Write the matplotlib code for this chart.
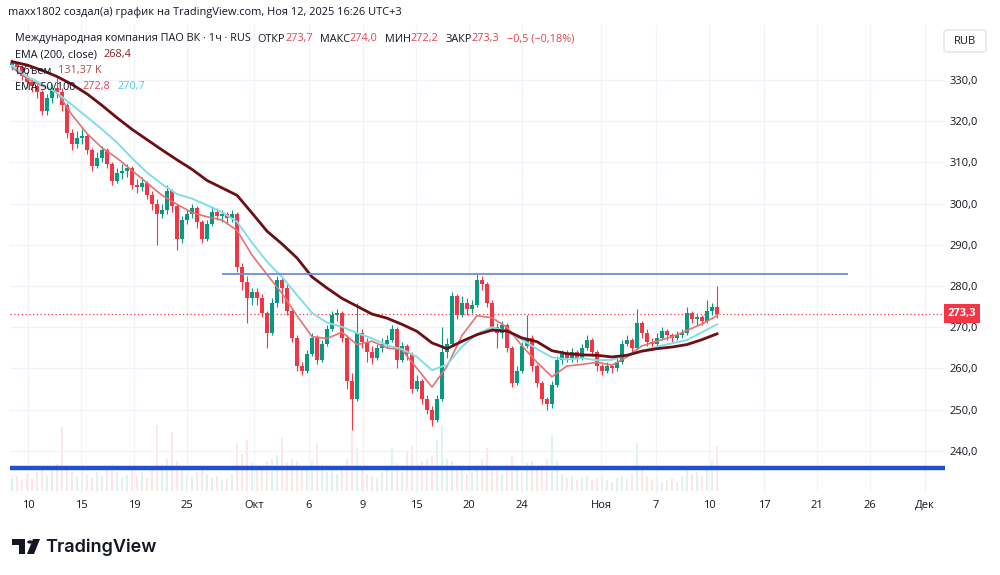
import matplotlib
matplotlib.use("Agg")
import matplotlib.pyplot as plt
import matplotlib.transforms as mtransforms
from matplotlib.patches import FancyBboxPatch, Polygon, Circle

plt.rcParams["font.family"] = ["Open Sans", "DejaVu Sans"]

# hourly candles, resampled: one candle per ~5 px of the original chart
opens = [333.5, 334.0, 333.0, 331.0, 329.5, 328.5, 327.0, 322.5, 325.5, 328.0,
         327.0, 324.0, 317.0, 314.5, 316.0, 316.5, 313.0, 309.0, 311.0, 313.0,
         309.5, 305.5, 307.5, 308.0, 308.5, 304.5, 304.0, 305.0, 302.0, 300.0,
         297.5, 298.5, 303.0, 299.5, 291.5, 296.0, 297.5, 299.0, 295.5, 291.5,
         295.0, 298.0, 297.0, 297.5, 296.5, 297.5, 284.5, 281.0, 277.0, 278.5,
         277.0, 273.5, 268.5, 276.0, 281.5, 279.5, 274.0, 267.5, 260.5, 259.5,
         263.5, 267.5, 262.0, 266.0, 269.5, 273.0, 273.5, 267.5, 257.0, 252.5,
         268.5, 266.5, 264.0, 262.5, 265.0, 266.0, 267.0, 269.5, 262.0, 265.5,
         263.5, 255.0, 257.0, 252.5, 250.0, 247.5, 252.5, 264.0, 266.0, 277.5,
         273.0, 276.0, 274.5, 275.5, 281.5, 280.5, 276.0, 270.0, 268.5, 270.5,
         265.0, 256.5, 259.5, 265.5, 267.5, 260.5, 256.5, 252.5, 251.5, 256.0,
         262.0, 263.5, 262.5, 264.0, 262.5, 265.0, 267.0, 264.0, 260.5, 259.5,
         260.5, 260.0, 261.5, 266.0, 267.0, 265.0, 271.0, 268.5, 266.5, 266.0,
         267.5, 269.0, 268.0, 267.5, 268.0, 268.5, 273.5, 272.0, 272.5, 271.5,
         274.0, 275.0]
closes = [334.0, 333.0, 331.0, 329.5, 328.5, 327.0, 322.5, 325.5, 328.0, 327.0,
          324.0, 317.0, 314.5, 316.0, 316.5, 313.0, 309.0, 311.0, 313.0, 309.5,
          305.5, 307.5, 308.0, 308.5, 304.5, 304.0, 305.0, 302.0, 300.0, 297.5,
          298.5, 303.0, 299.5, 291.5, 296.0, 297.5, 299.0, 295.5, 291.5, 295.0,
          298.0, 297.0, 297.5, 296.5, 297.5, 284.5, 281.0, 277.0, 278.5, 277.0,
          273.5, 268.5, 276.0, 281.5, 279.5, 274.0, 267.5, 260.5, 259.5, 263.5,
          267.5, 262.0, 266.0, 269.5, 273.0, 273.5, 267.5, 257.0, 252.5, 268.5,
          266.5, 264.0, 262.5, 265.0, 266.0, 267.0, 269.5, 262.0, 265.5, 263.5,
          255.0, 257.0, 252.5, 250.0, 247.5, 252.5, 264.0, 266.0, 277.5, 273.0,
          276.0, 274.5, 275.5, 281.5, 280.5, 276.0, 270.0, 268.5, 270.5, 265.0,
          256.5, 259.5, 265.5, 267.5, 260.5, 256.5, 252.5, 251.5, 256.0, 262.0,
          263.5, 262.5, 264.0, 262.5, 265.0, 267.0, 264.0, 260.5, 259.5, 260.5,
          260.0, 261.5, 266.0, 267.0, 265.0, 271.0, 268.5, 266.5, 266.0, 267.5,
          269.0, 268.0, 267.5, 268.0, 268.5, 273.5, 272.0, 272.5, 271.5, 274.0,
          275.0, 273.3]
highs = [335.0, 334.5, 333.5, 332.0, 330.5, 329.0, 327.5, 326.5, 329.0, 330.5,
         328.0, 324.5, 318.0, 317.5, 318.0, 317.0, 313.5, 312.5, 314.0, 313.5,
         310.0, 308.5, 309.5, 309.5, 309.0, 306.0, 306.5, 305.5, 303.0, 301.0,
         300.0, 304.5, 303.5, 300.0, 297.0, 298.5, 300.0, 299.5, 296.0, 296.0,
         299.5, 299.0, 298.5, 298.0, 298.5, 298.0, 285.5, 282.5, 279.5, 279.5,
         278.0, 274.0, 277.0, 282.5, 282.0, 280.5, 274.5, 268.0, 261.5, 264.5,
         268.5, 268.0, 267.0, 270.5, 274.0, 274.5, 274.0, 268.0, 259.0, 276.0,
         269.5, 267.5, 265.5, 266.0, 267.5, 268.0, 270.5, 270.0, 266.5, 266.0,
         264.0, 258.5, 257.5, 253.5, 251.0, 253.5, 270.0, 267.5, 278.5, 278.0,
         277.5, 277.0, 276.5, 282.8, 282.5, 281.0, 276.5, 271.0, 271.5, 271.0,
         265.5, 260.5, 266.5, 273.0, 268.0, 261.0, 257.0, 253.0, 257.0, 263.0,
         264.5, 264.5, 265.0, 264.5, 266.0, 268.0, 267.5, 264.5, 261.0, 261.5,
         261.0, 262.5, 267.0, 268.0, 267.5, 274.5, 271.5, 269.5, 267.5, 268.5,
         270.0, 269.5, 268.5, 269.0, 269.5, 275.0, 274.0, 273.5, 273.0, 276.6,
         276.0, 280.0]
lows = [332.5, 331.5, 330.0, 328.0, 327.0, 325.5, 321.5, 321.5, 324.5, 325.5,
        322.5, 316.0, 313.0, 313.5, 314.5, 312.0, 308.0, 308.5, 310.0, 308.5,
        304.5, 305.0, 306.0, 306.5, 303.5, 302.5, 303.0, 301.0, 298.5, 290.0,
        296.5, 297.5, 298.0, 288.8, 290.5, 295.0, 296.5, 294.0, 290.5, 291.0,
        294.5, 296.0, 295.5, 295.0, 295.5, 283.5, 279.0, 271.0, 275.5, 275.5,
        272.5, 265.0, 268.0, 275.0, 276.0, 273.0, 266.5, 259.5, 258.5, 259.0,
        263.0, 261.0, 261.5, 265.5, 269.0, 271.5, 266.5, 255.0, 245.0, 252.0,
        265.0, 261.5, 261.0, 262.0, 264.0, 265.0, 266.5, 260.0, 261.5, 262.0,
        254.0, 254.5, 251.5, 249.0, 246.0, 247.0, 252.0, 262.5, 265.5, 272.0,
        272.5, 273.0, 273.5, 275.0, 279.0, 275.0, 269.0, 265.0, 267.5, 264.0,
        255.5, 256.0, 259.0, 265.0, 259.5, 255.5, 251.5, 250.0, 250.5, 255.5,
        261.0, 261.5, 261.5, 261.5, 262.0, 264.5, 263.0, 259.5, 258.5, 259.0,
        259.0, 259.5, 261.0, 265.5, 264.0, 264.5, 267.5, 265.5, 265.0, 265.5,
        267.0, 267.0, 266.5, 267.0, 267.5, 268.0, 271.0, 270.5, 270.5, 271.0,
        273.0, 272.2]
# volume, thousands
volumes = [240, 280, 200, 320, 240, 360, 440, 300, 400, 500,
           1200, 440, 360, 280, 400, 320, 240, 360, 280, 400,
           480, 360, 240, 300, 400, 280, 360, 240, 400, 1240,
           480, 600, 1100, 560, 400, 320, 280, 360, 440, 320,
           240, 280, 200, 240, 320, 900, 700, 960, 520, 400,
           440, 560, 600, 680, 1000, 520, 600, 560, 440, 400,
           560, 900, 480, 360, 440, 320, 400, 600, 1100, 800,
           440, 320, 280, 240, 360, 400, 800, 520, 360, 760,
           840, 480, 560, 600, 680, 960, 1240, 600, 560, 400,
           440, 320, 360, 480, 600, 800, 440, 400, 320, 480,
           680, 400, 360, 520, 560, 440, 480, 600, 1040, 560,
           320, 240, 280, 200, 240, 280, 200, 240, 280, 200,
           160, 240, 280, 240, 320, 900, 440, 280, 200, 240,
           160, 200, 240, 160, 280, 440, 320, 360, 280, 400,
           560, 840]

# EMA values read every 3rd candle
ema_bars = list(range(0, 142, 3))
ema200 = [334.4, 333.6, 332.3, 330.8, 328.9, 326.6, 323.8, 320.8, 318.0, 315.5,
          313.0, 310.6, 308.3, 305.6, 303.8, 302.0, 297.7, 293.3, 290.2, 286.8,
          282.2, 279.5, 277.0, 275.1, 273.2, 272.2, 270.7, 269.0, 266.2, 264.8,
          266.6, 268.2, 269.3, 269.1, 267.4, 266.5, 264.3, 263.6, 263.3, 263.2,
          262.8, 263.2, 264.2, 264.8, 265.2, 265.8, 267.0, 268.4]
ema100 = [333.5, 330.8, 329.0, 326.8, 323.9, 321.0, 318.0, 314.8, 311.0, 307.5,
          304.7, 302.3, 301.2, 299.6, 297.9, 295.6, 290.5, 285.9, 282.2, 277.8,
          273.5, 271.1, 270.1, 268.6, 267.3, 265.6, 264.7, 262.8, 259.6, 260.9,
          265.3, 268.4, 270.0, 269.1, 267.0, 264.7, 262.7, 262.2, 262.5, 262.0,
          262.1, 263.3, 264.3, 265.3, 266.1, 266.9, 268.8, 270.7]
ema50 = [333.0, 330.3, 328.6, 327.0, 321.5, 317.0, 313.5, 311.0, 308.0, 305.0,
         302.0, 299.8, 297.8, 296.8, 296.0, 293.5, 287.5, 282.8, 278.2, 272.8,
         267.7, 267.3, 268.8, 265.8, 266.6, 265.0, 264.5, 260.0, 255.5, 260.5,
         268.0, 272.8, 272.3, 270.0, 265.5, 261.5, 258.0, 260.6, 261.0, 261.5,
         260.8, 262.8, 265.5, 266.6, 267.7, 269.2, 270.8, 272.8]

# date labels on the time axis, in candle units
date_ticks = [3.2, 13.8, 24.4, 35.0, 48.4, 59.4, 70.2, 80.8, 91.4, 102.0,
              117.8, 128.8, 139.4, 150.4, 161.0, 171.6, 182.6]
date_labels = ["10", "15", "19", "25", "Окт", "6", "9", "15", "20", "24",
               "Ноя", "7", "10", "17", "21", "26", "Дек"]
price_ticks = [240, 250, 260, 270, 280, 290, 300, 310, 320, 330]

# drawn levels
resist_level, resist_start, resist_end = 282.9, 42, 167.2
support_level = 235.9
last_price = 273.3

UP, DOWN = "#089981", "#f23645"
DARK = "#131722"
GRID = "#f0f3fa"

W, H = 1000, 575
fig = plt.figure(figsize=(10, 5.75), dpi=100)


def fx(px):
    return px / W


def fy(py):
    return 1 - py / H


axv = fig.add_axes([fx(10), fy(491), fx(935), 466 / H])
ax = fig.add_axes([fx(10), fy(493), fx(935), 468 / H], sharex=axv)
ax.patch.set_alpha(0)
axv.set_ylim(0, max(volumes) * 466 / 66)
axv.axis("off")

n = len(closes)
xs = list(range(n))
colors = [UP if c >= o else DOWN for o, c in zip(opens, closes)]

axv.bar(xs, volumes, width=0.45, color=colors, alpha=0.12, linewidth=0)

ax.vlines(xs, lows, highs, colors=colors, linewidth=0.8, zorder=3)
bottoms = [min(o, c) for o, c in zip(opens, closes)]
heights = [max(abs(c - o), 0.15) for o, c in zip(opens, closes)]
ax.bar(xs, heights, bottom=bottoms, width=0.68, color=colors, linewidth=0, zorder=3)

ax.plot(ema_bars, ema50, color="#e57373", linewidth=1.2, zorder=4)
ax.plot(ema_bars, ema100, color="#80deea", linewidth=1.4, zorder=4)
ax.plot(ema_bars, ema200, color="#6d0f12", linewidth=2.0, zorder=5)

ax.hlines(resist_level, resist_start, resist_end, color="#6d8fd8", linewidth=1.3, zorder=6)
ax.axhline(support_level, color="#2350c8", linewidth=3.2, zorder=6)
ax.axhline(last_price, color=DOWN, linewidth=0.9, linestyle=(0, (1, 2)), zorder=2)

ax.set_xlim(-0.4, 186.6)
ax.set_ylim(229.8, 343.3)
ax.set_xticks(date_ticks)
ax.set_xticklabels(date_labels)
ax.set_yticks(price_ticks)
ax.set_yticklabels([f"{p:.1f}".replace(".", ",") for p in price_ticks])
ax.yaxis.tick_right()
ax.tick_params(axis="both", length=0, labelsize=8, labelcolor=DARK)
ax.tick_params(axis="x", pad=5)
ax.tick_params(axis="y", pad=3)
ax.grid(True, color=GRID, linewidth=0.9)
ax.set_axisbelow(True)
for s in ax.spines.values():
    s.set_visible(False)

# last price label on the price scale
blend = mtransforms.blended_transform_factory(fig.transFigure, ax.transData)
ax.text(fx(948), last_price, "273,3", transform=blend, color="white", fontsize=8,
        fontweight="bold", va="center", ha="left",
        bbox=dict(boxstyle="square,pad=0.35", fc=DOWN, ec="none"), zorder=10)

# RUB box
fig.patches.append(FancyBboxPatch((fx(944), fy(52)), fx(42), 22 / H,
                                  boxstyle="round,pad=0,rounding_size=0.004",
                                  transform=fig.transFigure, fc="white", ec="#e0e3eb", lw=1))
fig.text(fx(965), fy(41), "RUB", fontsize=8, color=DARK, ha="center", va="center")

renderer = fig.canvas.get_renderer()


def draw_pieces(x_px, y_px, pieces, size=7.8):
    x = x_px
    for txt, col, gap in pieces:
        t = fig.text(fx(x), fy(y_px), txt, color=col, fontsize=size, ha="left", va="center")
        x += t.get_window_extent(renderer).width + gap


fig.text(fx(8), fy(12), "maxx1802 создал(а) график на TradingView.com, Ноя 12, 2025 16:26 UTC+3",
         fontsize=7.9, color=DARK, ha="left", va="center")

RED = "#e5404f"
draw_pieces(15, 39, [("Международная компания ПАО ВК · 1ч · RUS", DARK, 7),
                     ("ОТКР", DARK, 0), ("273,7", RED, 7),
                     ("МАКС", DARK, 0), ("274,0", RED, 7),
                     ("МИН", DARK, 0), ("272,2", RED, 7),
                     ("ЗАКР", DARK, 0), ("273,3", RED, 7),
                     ("−0,5 (−0,18%)", RED, 0)])
draw_pieces(15, 55, [("EMA (200, close)", DARK, 7), ("268,4", "#8a1f24", 0)])
draw_pieces(15, 71, [("Объем", DARK, 7), ("131,37 K", "#b54848", 0)])
draw_pieces(15, 87, [("EMA 50/100", DARK, 7), ("272,8", RED, 7), ("270,7", "#4dd0e1", 0)])

# TradingView logo
fig.patches.append(Polygon([(fx(a), fy(b)) for a, b in
                            [(12, 539), (25, 539), (25, 554), (19, 554), (19, 545), (12, 545)]],
                           closed=True, transform=fig.transFigure, fc=DARK, ec="none"))
fig.patches.append(Circle((fx(30), fy(542)), 2.8 / W, transform=fig.transFigure,
                          fc=DARK, ec="none"))
fig.patches.append(Polygon([(fx(a), fy(b)) for a, b in
                            [(33, 539), (40, 539), (34, 554), (27, 554)]],
                           closed=True, transform=fig.transFigure, fc=DARK, ec="none"))
fig.text(fx(45), fy(547), "TradingView", fontsize=13, fontweight="semibold",
         family=["Inter", "DejaVu Sans"], color=DARK, ha="left", va="center")

fig.savefig("out.png", dpi=100, facecolor="white")
